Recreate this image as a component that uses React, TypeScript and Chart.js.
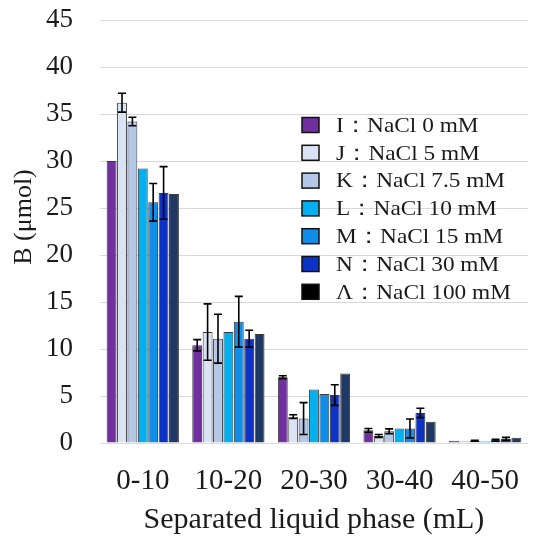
import React, { useEffect, useRef } from 'react';
import { Chart, registerables } from 'chart.js';

Chart.register(...registerables);

const categories = ['0-10', '10-20', '20-30', '30-40', '40-50'];
const seriesLabels = [
  'I：NaCl 0 mM',
  'J：NaCl 5 mM',
  'K：NaCl 7.5 mM',
  'L：NaCl 10 mM',
  'M：NaCl 15 mM',
  'N：NaCl 30 mM',
  'Λ：NaCl 100 mM',
];
const yAxisTitle = 'B (μmol)';
const xAxisTitle = 'Separated liquid phase (mL)';

const valuesI = [30.0, 10.4, 7.0, 1.35, 0.25];
const valuesJ = [36.2, 11.8, 2.8, 0.75, 0.15];
const valuesK = [34.2, 11.1, 2.6, 1.25, 0.25];
const valuesL = [29.2, 11.8, 5.7, 1.55, 0.15];
const valuesM = [25.6, 12.9, 5.2, 1.55, 0.3];
const valuesN = [26.6, 11.1, 5.1, 3.2, 0.45];
const valuesA = [26.5, 11.6, 7.4, 2.25, 0.55];

const errI = [0, 0.6, 0.15, 0.2, 0];
const errJ = [1.0, 3.0, 0.2, 0.15, 0];
const errK = [0.45, 2.6, 1.7, 0.25, 0.05];
const errL = [0, 0, 0, 0, 0];
const errM = [2.0, 2.7, 0, 1.0, 0.1];
const errN = [2.8, 0.9, 1.1, 0.5, 0.15];
const errA = [0, 0, 0, 0, 0];

const yMax = 45;
const yStep = 5;

const allValues = [valuesI, valuesJ, valuesK, valuesL, valuesM, valuesN, valuesA];
const allErrors = [errI, errJ, errK, errL, errM, errN, errA];
const barColors = ['#7030A0', '#DAE3F3', '#B4C7E7', '#00B0F0', '#0E8EE8', '#0D33C6', '#1F3864'];
const legendColors = ['#7030A0', '#DAE3F3', '#B4C7E7', '#00B0F0', '#0E8EE8', '#0D33C6', '#000000'];

const SERIF = '"Liberation Serif", "Times New Roman", serif';

const errorBarPlugin = {
  id: 'errorBars',
  afterDatasetsDraw(chart: any) {
    const ctx = chart.ctx;
    const yScale = chart.scales.y;
    ctx.save();
    ctx.strokeStyle = '#000000';
    ctx.lineWidth = 1.6;
    allErrors.forEach((errs, d) => {
      const meta = chart.getDatasetMeta(d);
      meta.data.forEach((el: any, i: number) => {
        const e = errs[i];
        if (!e) return;
        const v = allValues[d][i];
        const yTop = yScale.getPixelForValue(v + e);
        const yBot = yScale.getPixelForValue(Math.max(0, v - e));
        const x = el.x;
        const cap = 4;
        ctx.beginPath();
        ctx.moveTo(x, yTop);
        ctx.lineTo(x, yBot);
        ctx.moveTo(x - cap, yTop);
        ctx.lineTo(x + cap, yTop);
        ctx.moveTo(x - cap, yBot);
        ctx.lineTo(x + cap, yBot);
        ctx.stroke();
      });
    });
    ctx.restore();
  },
};

const legendPlugin = {
  id: 'customLegend',
  afterDraw(chart: any) {
    const ctx = chart.ctx;
    ctx.save();
    const boxX = 302;
    const textX = 336;
    const startY = 125;
    const rowH = 27.8;
    ctx.font = `22px ${SERIF}`;
    ctx.textBaseline = 'middle';
    ctx.textAlign = 'left';
    seriesLabels.forEach((label, i) => {
      const cy = startY + i * rowH;
      ctx.fillStyle = legendColors[i];
      ctx.fillRect(boxX, cy - 7.5, 17, 15);
      ctx.strokeStyle = '#111111';
      ctx.lineWidth = 1.5;
      ctx.strokeRect(boxX, cy - 7.5, 17, 15);
      ctx.fillStyle = '#1a1a1a';
      ctx.save();
      ctx.translate(textX, cy + 1);
      ctx.scale(1.06, 1);
      ctx.fillText(label, 0, 0);
      ctx.restore();
    });
    // rotated y-axis title
    ctx.save();
    ctx.font = `26px ${SERIF}`;
    ctx.fillStyle = '#1a1a1a';
    ctx.textAlign = 'center';
    ctx.textBaseline = 'middle';
    ctx.translate(24, 217);
    ctx.rotate(-Math.PI / 2);
    ctx.fillText(yAxisTitle, 0, 0);
    ctx.restore();
    ctx.restore();
  },
};

export default function App() {
  const canvasRef = useRef<HTMLCanvasElement | null>(null);

  useEffect(() => {
    const canvas = canvasRef.current;
    if (!canvas) return;
    const chart = new Chart(canvas, {
      type: 'bar',
      data: {
        labels: categories,
        datasets: allValues.map((vals, d) => ({
          label: seriesLabels[d],
          data: vals,
          backgroundColor: barColors[d],
          borderColor: '#3a3a3a',
          borderWidth: 1,
          categoryPercentage: 0.85,
          barPercentage: 0.95,
        })),
      },
      options: {
        responsive: false,
        animation: false,
        devicePixelRatio: 1,
        layout: { padding: { top: 20, right: 0, left: 0, bottom: 0 } },
        plugins: {
          legend: { display: false },
          tooltip: { enabled: false },
        },
        scales: {
          x: {
            grid: { display: false, drawTicks: false },
            border: { display: false },
            ticks: {
              color: '#1a1a1a',
              font: { family: SERIF, size: 29 },
              padding: 21,
              maxRotation: 0,
              autoSkip: false,
            },
            title: {
              display: true,
              text: xAxisTitle,
              color: '#1a1a1a',
              font: { family: SERIF, size: 30 },
              padding: { top: 0, bottom: 1 },
            },
            afterFit(scale: any) {
              scale.height = 96;
            },
          },
          y: {
            min: 0,
            max: yMax,
            grid: {
              color: '#d9d9d9',
              lineWidth: 1,
              drawTicks: true,
              tickLength: 27,
              tickColor: 'rgba(0,0,0,0)',
            },
            border: { display: false },
            ticks: {
              stepSize: yStep,
              color: '#1a1a1a',
              font: { family: SERIF, size: 27 },
              padding: 0,
            },
            title: { display: false },
            afterFit(scale: any) {
              scale.width = 100;
            },
          },
        },
      },
      plugins: [errorBarPlugin, legendPlugin],
    });
    return () => chart.destroy();
  }, []);

  return (
    <div
      style={{
        position: 'fixed',
        left: 0,
        top: 0,
        width: 536,
        height: 539,
        overflow: 'hidden',
        background: '#ffffff',
      }}
    >
      <canvas ref={canvasRef} width={540} height={539} style={{ display: 'block' }} />
    </div>
  );
}
